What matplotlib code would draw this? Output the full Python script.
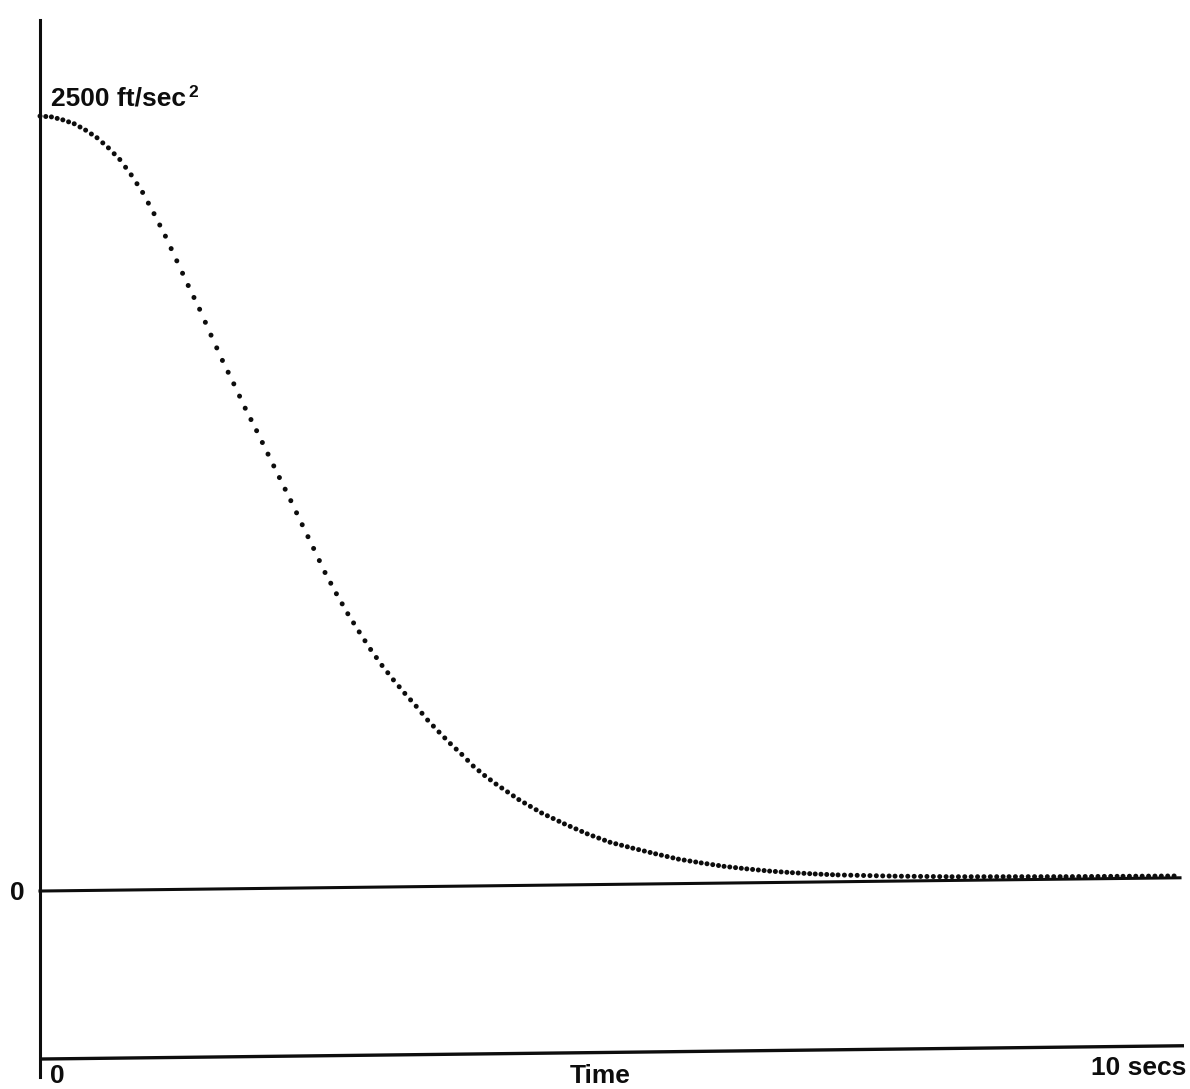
import numpy as np
import matplotlib
matplotlib.use("Agg")
import matplotlib.pyplot as plt
from matplotlib.transforms import Affine2D

# Deceleration trace (ft/sec^2) against time (sec)
t_sec = [0.0, 0.1, 0.2, 0.3, 0.4, 0.5, 0.6, 0.7, 0.8, 0.9,
         1.0, 1.1, 1.2, 1.3, 1.4, 1.5, 1.6, 1.7, 1.8, 1.9,
         2.0, 2.1, 2.2, 2.3, 2.4, 2.5, 2.6, 2.7, 2.8, 2.9,
         3.0, 3.1, 3.2, 3.3, 3.4, 3.5, 3.6, 3.7, 3.8, 3.9,
         4.0, 4.2, 4.4, 4.6, 4.8, 5.0, 5.2, 5.4, 5.6, 5.8,
         6.0, 6.2, 6.4, 6.6, 6.8, 7.0, 7.5, 8.0, 8.5, 9.0,
         9.5, 10.0]
accel = [2500, 2497, 2487, 2474, 2453, 2428, 2395, 2357, 2307, 2250,
         2181, 2108, 2028, 1948, 1871, 1787, 1705, 1629, 1550, 1477,
         1401, 1325, 1250, 1172, 1095, 1017, 948, 883, 824, 767,
         715, 668, 624, 582, 537, 498, 460, 425, 387, 356,
         328, 277, 233, 197, 164, 136, 116, 97, 79, 66,
         54, 45, 37, 31, 26, 22, 16, 12, 10, 8,
         7, 6]

PEAK_LABEL = "2500 ft/sec"
T_END = 10.0
Y_BOTTOM_AXIS = -542

W, H, DPI = 1190, 1089, 100
LW_DOT = 3.6          # pt, dot diameter
DOT_STEP_PX = 6.2     # horizontal dot pitch
INK = "#0d0d0d"

fig = plt.figure(figsize=(W / DPI, H / DPI), dpi=DPI)
ax_left, ax_right, ax_top, ax_bot = 40, 1184, 20, 1077
ax = fig.add_axes([ax_left / W, (H - ax_bot) / H,
                   (ax_right - ax_left) / W, (ax_bot - ax_top) / H])
ax.set_xlim(0, T_END * (ax_right - ax_left) / 1140)
ax.set_ylim(-600, 2810)
ax.axis("off")

# horizontal rules on the sheet run slightly uphill to the right
shear = Affine2D().translate(-ax_left, 0).skew(0, np.arctan(0.0116)).translate(ax_left, 0)
tr = ax.transData + shear

ax.axvline(0, color=INK, lw=2.2, clip_on=False)
ax.plot([0, T_END], [0, 0], color=INK, lw=2.2, transform=tr, clip_on=False)
ax.plot([0, ax.get_xlim()[1]], [Y_BOTTOM_AXIS, Y_BOTTOM_AXIS], color=INK, lw=2.4,
        transform=tr, clip_on=False, solid_capstyle="butt")

# dotted trace: dots keep a roughly even horizontal pitch, so the gap
# is set per segment from its on-screen length
pts = ax.transData.transform(np.column_stack([t_sec, accel]))
for i in range(len(t_sec) - 1):
    dx = pts[i + 1, 0] - pts[i, 0]
    arc = np.hypot(dx, pts[i + 1, 1] - pts[i, 1])
    n = max(1, int(round(dx / DOT_STEP_PX)))
    gap = (arc / n) * 72.0 / DPI / LW_DOT
    ax.plot(t_sec[i:i + 2], accel[i:i + 2], color=INK, lw=LW_DOT,
            linestyle=(0, (0.01, gap)), dash_capstyle="round",
            transform=tr, clip_on=False)


def px(x, y):
    return x / W, 1 - y / H


font = dict(family=["Liberation Sans", "DejaVu Sans"], fontweight="bold",
            color=INK, fontsize=19)

lab = fig.text(*px(51, 106), PEAK_LABEL, ha="left", va="baseline", **font)
fig.canvas.draw()
bb = lab.get_window_extent(renderer=fig.canvas.get_renderer())
fig.text((bb.x1 + 2) / W, 1 - 97 / H, "2", ha="left", va="baseline",
         **{**font, "fontsize": 12.5})

fig.text(*px(17.5, 900), "0", ha="center", va="baseline", **font)
fig.text(*px(57, 1083), "0", ha="center", va="baseline", **font)
fig.text(*px(600, 1083), "Time", ha="center", va="baseline", **font)
fig.text(*px(1186, 1075), "10 secs", ha="right", va="baseline", **font)

fig.savefig("out.png", dpi=DPI, facecolor="white")
